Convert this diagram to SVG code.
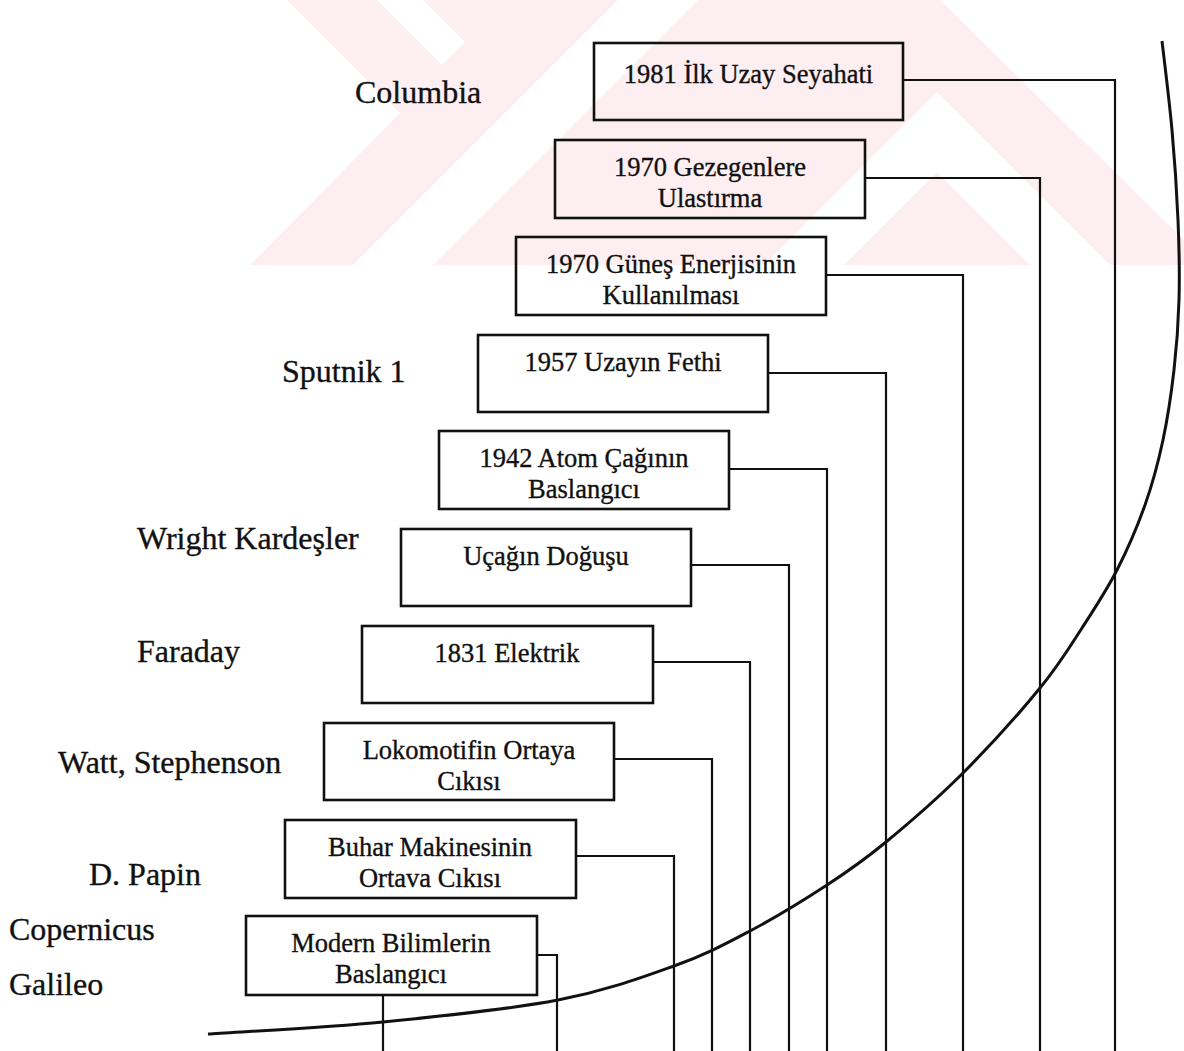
<svg xmlns="http://www.w3.org/2000/svg" width="1184" height="1051" viewBox="0 0 1184 1051">
<style>
.box{fill:none;stroke:#111;stroke-width:2.6}
.bt{font-family:"Liberation Serif","Times New Roman",serif;font-size:26.5px;fill:#111;stroke:#111;stroke-width:0.35;text-anchor:middle}
.lbl{font-family:"Liberation Serif","Times New Roman",serif;font-size:32px;fill:#111;stroke:#111;stroke-width:0.35}
.con{fill:none;stroke:#111;stroke-width:2.2}
.curve{fill:none;stroke:#111;stroke-width:3}
.wm{fill:#fdeff1}
.wmw{fill:#ffffff}
</style>
<rect x="0" y="0" width="1184" height="1051" fill="#ffffff"/>
<g id="watermark">
<polygon class="wm" points="287,0 1184,0 1184,265 250,265 400,113"/>
<polygon class="wmw" points="377,0 423,0 465,42 442,65"/>
<polygon class="wmw" points="353,265 433,265 698,0 618,0"/>
<polygon class="wmw" points="764,265 937,92 1110,265 1030,265 937,172 844,265"/>
<polygon class="wmw" points="940,0 1184,0 1184,240"/>
</g>
<g id="labels">
<text class="lbl" x="355" y="103">Columbia</text>
<text class="lbl" x="282" y="382">Sputnik 1</text>
<text class="lbl" x="137" y="549">Wright Kardeşler</text>
<text class="lbl" x="137" y="662">Faraday</text>
<text class="lbl" x="58" y="773">Watt, Stephenson</text>
<text class="lbl" x="89" y="885">D. Papin</text>
<text class="lbl" x="9" y="940">Copernicus</text>
<text class="lbl" x="9" y="995">Galileo</text>
</g>
<g id="connectors">
<path class="con" d="M903,80 H1115 V1051"/>
<path class="con" d="M865,178 H1040 V1051"/>
<path class="con" d="M826,275 H963 V1051"/>
<path class="con" d="M768,373 H886 V1051"/>
<path class="con" d="M729,469 H827 V1051"/>
<path class="con" d="M691,565 H789 V1051"/>
<path class="con" d="M653,662 H750 V1051"/>
<path class="con" d="M614,759 H712 V1051"/>
<path class="con" d="M576,856 H674 V1051"/>
<path class="con" d="M537,955 H557 V1051"/>
<path class="con" d="M383,995 V1051"/>
<path id="growth-curve" class="curve" d="M208,1034 C237.2,1032 324.7,1027.7 383,1022 C441.3,1016.3 509.5,1009.3 558,1000 C606.5,990.7 642,977.5 674,966 C706,954.5 724.5,944.5 750,931 C775.5,917.5 804.3,899.8 827,885 C849.7,870.2 863.3,860.7 886,842 C908.7,823.3 937.3,798.7 963,773 C988.7,747.3 1020.2,712.2 1040,688 C1059.8,663.8 1069.2,647.7 1082,628 C1094.8,608.3 1106.5,590.5 1117,570 C1127.5,549.5 1137.3,526.7 1145,505 C1152.7,483.3 1158.2,462.5 1163,440 C1167.8,417.5 1171.3,393.3 1174,370 C1176.7,346.7 1178.3,325 1179,300 C1179.7,275 1179.2,248.3 1178,220 C1176.8,191.7 1174.7,159.8 1172,130 C1169.3,100.2 1163.7,55.8 1162,41"/>
</g>
<g id="node-1981">
<rect class="box" x="594" y="43" width="309" height="77"/>
<text class="bt" x="748.5" y="83">1981 İlk Uzay Seyahati</text>
</g>
<g id="node-1970-gezegen">
<rect class="box" x="555" y="140" width="310" height="78"/>
<text class="bt" x="710" y="176">1970 Gezegenlere</text>
<text class="bt" x="710" y="207">Ulastırma</text>
</g>
<g id="node-1970-gunes">
<rect class="box" x="516" y="237" width="310" height="78"/>
<text class="bt" x="671" y="273">1970 Güneş Enerjisinin</text>
<text class="bt" x="671" y="304">Kullanılması</text>
</g>
<g id="node-1957">
<rect class="box" x="478" y="335" width="290" height="77"/>
<text class="bt" x="623" y="371">1957 Uzayın Fethi</text>
</g>
<g id="node-1942">
<rect class="box" x="439" y="431" width="290" height="78"/>
<text class="bt" x="584" y="467">1942 Atom Çağının</text>
<text class="bt" x="584" y="498">Baslangıcı</text>
</g>
<g id="node-ucak">
<rect class="box" x="401" y="529" width="290" height="77"/>
<text class="bt" x="546" y="565">Uçağın Doğuşu</text>
</g>
<g id="node-1831">
<rect class="box" x="362" y="626" width="291" height="77"/>
<text class="bt" x="507" y="662">1831 Elektrik</text>
</g>
<g id="node-lokomotif">
<rect class="box" x="324" y="723" width="290" height="77"/>
<text class="bt" x="469" y="759">Lokomotifin Ortaya</text>
<text class="bt" x="469" y="790">Cıkısı</text>
</g>
<g id="node-buhar">
<rect class="box" x="285" y="820" width="291" height="78"/>
<text class="bt" x="430" y="856">Buhar Makinesinin</text>
<text class="bt" x="430" y="887">Ortava Cıkısı</text>
</g>
<g id="node-modern">
<rect class="box" x="246" y="916" width="291" height="79"/>
<text class="bt" x="391" y="952">Modern Bilimlerin</text>
<text class="bt" x="391" y="983">Baslangıcı</text>
</g>
</svg>
